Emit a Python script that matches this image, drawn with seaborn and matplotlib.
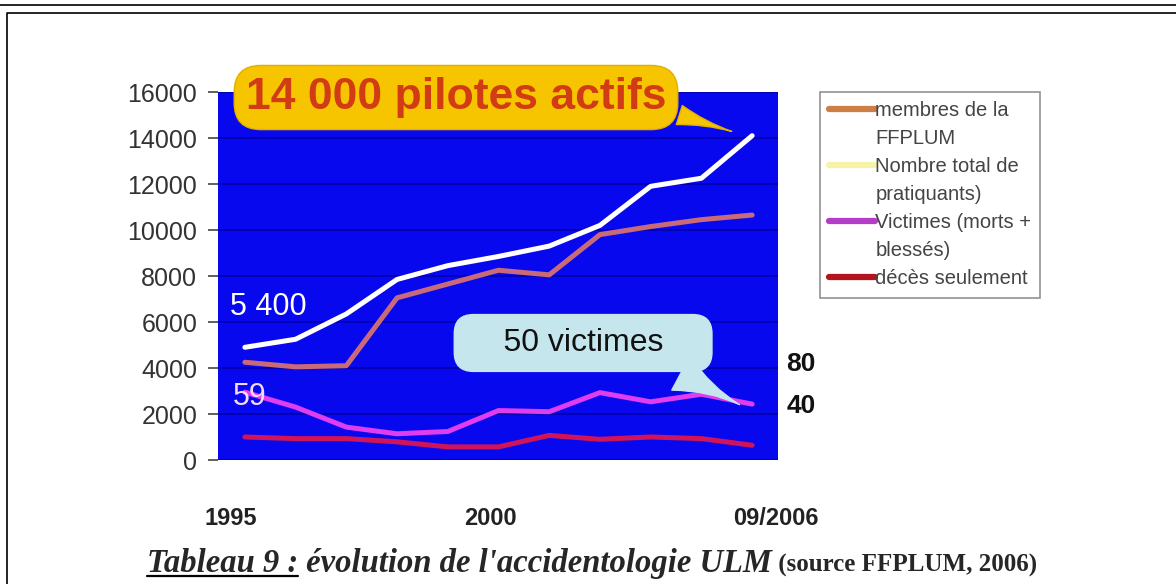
import matplotlib
matplotlib.use("Agg")
import matplotlib.pyplot as plt
import matplotlib.transforms as mtransforms
import seaborn as sns
import pandas as pd
from matplotlib.lines import Line2D

# data
periods = ["1995", "1996", "1997", "1998", "1999", "2000", "2001", "2002", "2003", "2004", "09/2006"]
membres = [4250, 4050, 4100, 7050, 7650, 8250, 8050, 9800, 10150, 10450, 10650]
pratiquants = [4900, 5250, 6350, 7850, 8450, 8850, 9300, 10200, 11900, 12250, 14100]
victimes = [2950, 2300, 1430, 1140, 1240, 2150, 2100, 2930, 2530, 2860, 2430]
deces = [1000, 930, 930, 790, 570, 570, 1070, 900, 1000, 930, 640]
shown_ticks = ["1995", "2000", "09/2006"]
series_names = ["membres de la FFPLUM", "Nombre total de pratiquants)",
                "Victimes (morts + blessés)", "décès seulement"]
legend_lines = [["membres de la", "FFPLUM"], ["Nombre total de", "pratiquants)"],
                ["Victimes (morts +", "blessés)"], ["décès seulement"]]

rows = []
for name, vals in zip(series_names, [membres, pratiquants, victimes, deces]):
    for i, v in enumerate(vals):
        rows.append({"pos": i, "valeur": v, "serie": name})
df = pd.DataFrame(rows)

line_colors = ["#c96a78", "#ffffff", "#e03cf0", "#d0145a"]
legend_colors = ["#cd7f45", "#f5f3a8", "#b43cc8", "#b5141e"]

sns.set_style("white")
plt.rcParams["font.family"] = ["Liberation Sans", "DejaVu Sans"]

fig = plt.figure(figsize=(11.76, 5.84), dpi=100)
ax = fig.add_axes([218 / 1176, 1 - 460 / 584, 560 / 1176, 368 / 584])
ax.set_facecolor("#0808ee")

sns.lineplot(data=df, x="pos", y="valeur", hue="serie", palette=line_colors,
             linewidth=3.6, ax=ax, legend=False)

ax.set_ylim(0, 16000)
ax.set_xlim(-0.53, 10.51)
ax.set_yticks(range(0, 16001, 2000))
ax.yaxis.grid(True, color="#0000a8", linewidth=1.2)
ax.set_axisbelow(True)
ax.tick_params(axis="y", labelsize=18, labelcolor="#333333", color="#444444",
               length=7, width=1.2, left=True, pad=8)
ax.set_xticks([periods.index(t) for t in shown_ticks])
ax.set_xticklabels(shown_ticks, fontsize=17, fontweight="bold", color="#222222")
ax.tick_params(axis="x", length=0, pad=34)
ax.set_xlabel("")
ax.set_ylabel("")
for s in ax.spines.values():
    s.set_visible(False)
# the tick labels sit a little off their points in the original
for lab, dx in zip(ax.get_xticklabels(), [-14, -8, 24]):
    lab.set_transform(lab.get_transform() + mtransforms.ScaledTranslation(dx / 100, 0, fig.dpi_scale_trans))

# callouts
last = len(periods) - 1
ax.annotate("14 000 pilotes actifs", xy=(last - 0.35, pratiquants[-1] + 150),
            xytext=(0.425, 0.985), textcoords="axes fraction",
            ha="center", va="center", fontsize=32, fontweight="bold", color="#d23c14",
            bbox=dict(boxstyle="round,pad=0.26,rounding_size=0.6", fc="#f7c400", ec="#e0b000"),
            arrowprops=dict(arrowstyle="wedge,tail_width=0.45,shrink_factor=0.3",
                            fc="#f7c400", ec="#e0b000", relpos=(0.985, 0.22)),
            annotation_clip=False, zorder=5)
ax.annotate("    50 victimes    ", xy=(last - 0.2, victimes[-1] - 80),
            xytext=(0.652, 0.318), textcoords="axes fraction",
            ha="center", va="center", fontsize=23, color="#111111",
            bbox=dict(boxstyle="round,pad=0.42,rounding_size=0.6", fc="#c4e6ec", ec="#c4e6ec"),
            arrowprops=dict(arrowstyle="wedge,tail_width=1.2,shrink_factor=0.3",
                            fc="#c4e6ec", ec="#c4e6ec", relpos=(0.8, 0.0)),
            annotation_clip=False, zorder=5)

ax.text(0.022, 0.415, "5 400", transform=ax.transAxes, fontsize=22, color="white", va="center")
ax.text(0.026, 0.171, "59", transform=ax.transAxes, fontsize=22, color="#f4d8f4", va="center")
ax.text(1.015, 0.26, "80", transform=ax.transAxes, fontsize=19, fontweight="bold", color="#111111", va="center")
ax.text(1.015, 0.148, "40", transform=ax.transAxes, fontsize=19, fontweight="bold", color="#111111", va="center")

# legend: one row per text line, the colour stroke on the first line of each entry
handles, labels = [], []
for col, lines in zip(legend_colors, legend_lines):
    for k, txt in enumerate(lines):
        handles.append(Line2D([], [], color=col if k == 0 else "none", linewidth=4.5))
        labels.append(txt)
leg = fig.legend(handles, labels, loc="upper left",
                 bbox_to_anchor=(820 / 1176, 1 - 92 / 584), frameon=True, fancybox=False,
                 fontsize=14.5, handlelength=2.3, handletextpad=0.0, labelspacing=0.45,
                 borderpad=0.45, borderaxespad=0, labelcolor="#444444")
leg.get_frame().set_edgecolor("#777777")
leg.get_frame().set_linewidth(1.2)

# page frame
fig.add_artist(Line2D([0, 1], [1 - 5 / 584, 1 - 5 / 584], color="black", linewidth=1.2))
fig.add_artist(Line2D([7 / 1176, 7 / 1176, 1], [0, 1 - 13 / 584, 1 - 13 / 584],
                      color="black", linewidth=1.2))

# caption with mixed styles
renderer = fig.canvas.get_renderer()
cap_y = 1 - 572 / 584
x = 147 / 1176
parts = [("Tableau 9 :", "italic", "bold", 23.5, True),
         (" évolution de l'accidentologie ULM", "italic", "bold", 23.5, False),
         (" (source FFPLUM, 2006)", "normal", "bold", 18, False)]
for txt, style, weight, size, underline in parts:
    t = fig.text(x, cap_y, txt, fontfamily="Liberation Serif", fontstyle=style,
                 fontweight=weight, fontsize=size, va="baseline", ha="left")
    bb = t.get_window_extent(renderer=renderer)
    x1 = bb.x1 / fig.bbox.width
    if underline:
        fig.add_artist(Line2D([x, x1], [cap_y - 4 / 584, cap_y - 4 / 584],
                              color="black", linewidth=1.6))
    x = x1

fig.savefig("out.png", dpi=100)
